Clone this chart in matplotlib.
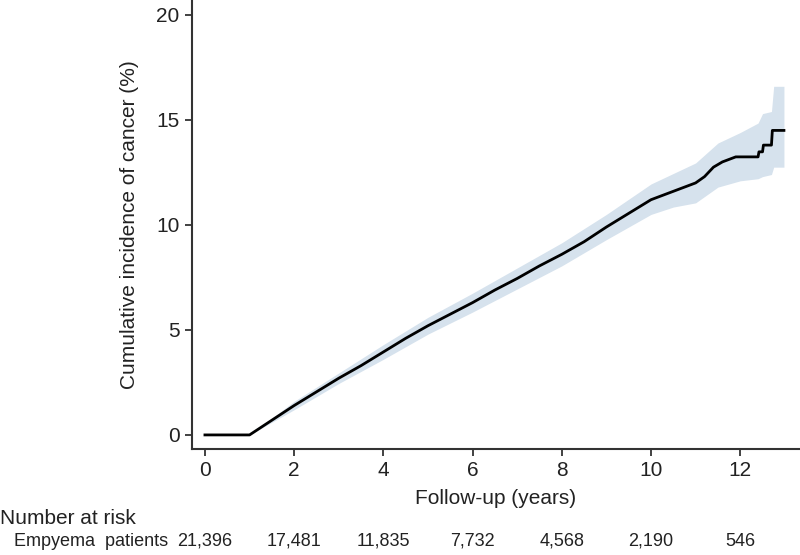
import matplotlib
matplotlib.use("Agg")
import matplotlib.pyplot as plt
import matplotlib.transforms as mtransforms

plt.rcParams['font.family'] = ['Liberation Sans', 'DejaVu Sans']

# cumulative incidence curve (years, %)
years = [0, 1.0, 1.5, 2.0, 2.5, 3.0, 3.5, 4.0, 4.5, 5.0, 5.5, 6.0, 6.5, 7.0, 7.5,
         8.0, 8.5, 9.0, 9.5, 10.0, 10.5, 11.0, 11.2, 11.4, 11.6, 11.9, 12.4,
         12.42, 12.5, 12.52, 12.7, 12.72, 12.98]
incidence = [0, 0, 0.7, 1.4, 2.05, 2.7, 3.3, 3.95, 4.6, 5.2, 5.75, 6.3, 6.9, 7.45, 8.05,
             8.6, 9.2, 9.9, 10.55, 11.2, 11.6, 12.0, 12.3, 12.75, 13.0, 13.24, 13.24,
             13.48, 13.48, 13.8, 13.8, 14.5, 14.5]

# 95% confidence band
band_years = [1.0, 2, 3, 4, 5, 6, 7, 8, 9, 10, 10.5, 11, 11.5, 12, 12.4, 12.5, 12.7, 12.75, 12.98]
band_upper = [0, 1.6, 2.95, 4.3, 5.6, 6.75, 7.95, 9.15, 10.5, 11.95, 12.45, 12.95, 13.9, 14.4,
              14.85, 15.3, 15.4, 16.6, 16.6]
band_lower = [0, 1.2, 2.45, 3.6, 4.8, 5.85, 6.95, 8.05, 9.3, 10.5, 10.85, 11.05, 11.8, 12.1,
              12.2, 12.3, 12.4, 12.75, 12.75]

# number at risk table
risk_years = [0, 2, 4, 6, 8, 10, 12]
risk_counts = ['21,396', '17,481', '11,835', '7,732', '4,568', '2,190', '546']

text_color = '#222222'
spine_color = '#333333'

fig = plt.figure(figsize=(8, 5.55), dpi=100)
ax = fig.add_axes([0.24, 0.191, 0.76, 0.809])

ax.fill_between(band_years, band_lower, band_upper, color='#d6e2ed', linewidth=0)
ax.plot(years, incidence, color='black', linewidth=2)

ax.set_xlim(-0.29, 13.34)
ax.set_ylim(-0.67, 20.71)
ax.set_xticks([0, 2, 4, 6, 8, 10, 12])
ax.set_yticks([0, 5, 10, 15, 20])

for side in ['top', 'right']:
    ax.spines[side].set_visible(False)
for side in ['left', 'bottom']:
    ax.spines[side].set_color(spine_color)
    ax.spines[side].set_linewidth(1.5)

ax.tick_params(direction='out', length=5, width=1.3, color=spine_color,
               labelsize=15, labelcolor=text_color, pad=4)

ax.set_ylabel('Cumulative incidence of cancer (%)', fontsize=15, color=text_color, labelpad=12)
ax.set_xlabel('Follow-up (years)', fontsize=15, color=text_color, labelpad=6)

# number at risk rows below the axis
fig.text(0.0, 1 - 518 / 555, 'Number at risk', fontsize=15, color=text_color,
         ha='left', va='center')
fig.text(0.018, 1 - 541 / 555, 'Empyema  patients', fontsize=13, color=text_color,
         ha='left', va='center')
trans = mtransforms.blended_transform_factory(ax.transData, fig.transFigure)
for yr, cnt in zip(risk_years, risk_counts):
    ax.text(yr, 1 - 541 / 555, cnt, transform=trans, fontsize=13, color=text_color,
            ha='center', va='center', clip_on=False)

fig.savefig('out.png', dpi=100)
